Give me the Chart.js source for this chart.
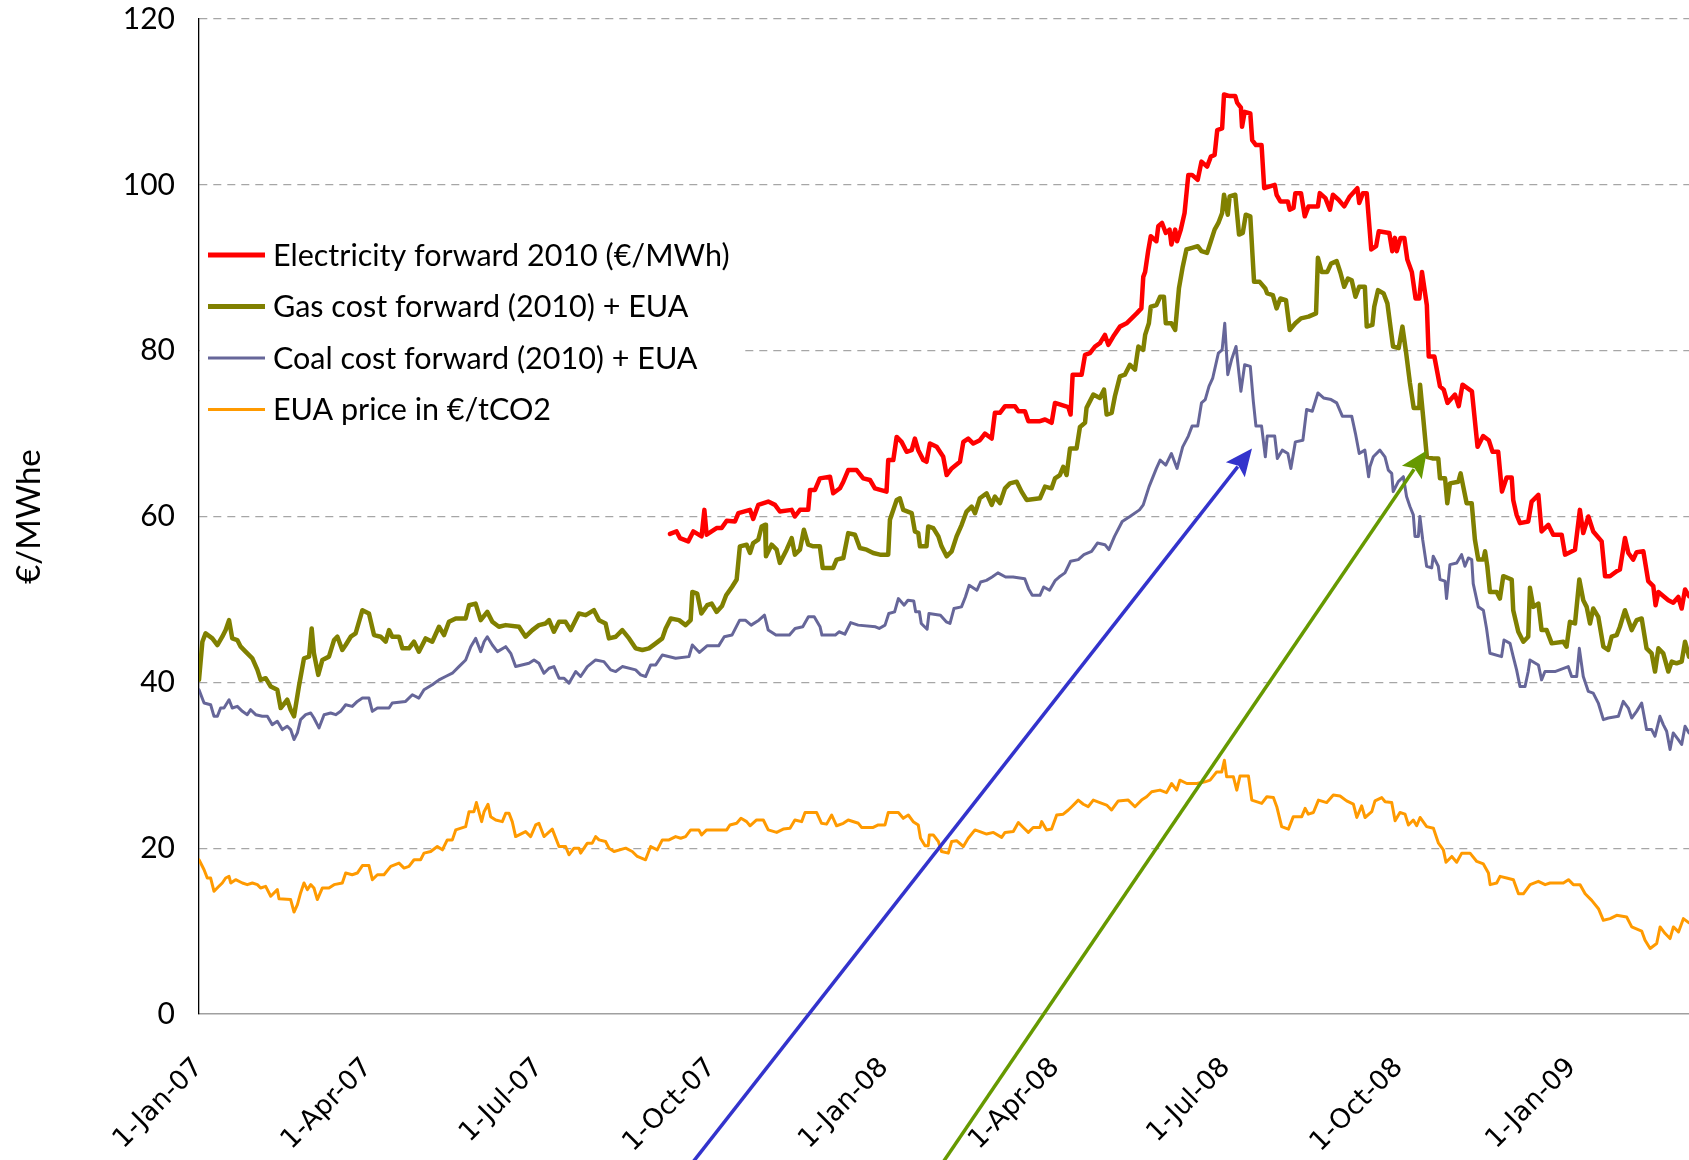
<!DOCTYPE html>
<html>
<head>
<meta charset="utf-8">
<script src="https://cdn.jsdelivr.net/npm/chart.js@4.4.1/dist/chart.umd.min.js"></script>
<style>
  html, body { margin: 0; padding: 0; background: #fff; }
  canvas { display: block; }
</style>
</head>
<body>
<canvas id="prices" width="1689" height="1160"></canvas>
<script>
// days counted from 1-Jan-2007
const xTickDays = [0, 90, 181, 273, 365, 456, 547, 639, 731];
const xTickLabels = ['1-Jan-07', '1-Apr-07', '1-Jul-07', '1-Oct-07', '1-Jan-08', '1-Apr-08', '1-Jul-08', '1-Oct-08', '1-Jan-09'];
const yTicks = [0, 20, 40, 60, 80, 100, 120];

const seriesNames = [
  'Electricity forward 2010 (€/MWh)',
  'Gas cost forward (2010) + EUA',
  'Coal cost forward (2010) + EUA',
  'EUA price in €/tCO2'
];

const elecDays = [250.8,254.3,256.1,260.5,263.2,267.6,269.1,270.3,275.6,278.3,281.0,285.4,287.2,293.4,295.1,297.8,303.1,306.7,309.3,315.6,317.3,320.0,324.4,325.3,328.0,330.6,336.0,337.7,341.3,343.1,345.7,350.2,353.7,357.3,359.9,366.1,367.0,369.7,371.5,374.1,376.8,379.5,381.2,383.0,385.7,387.4,389.2,392.8,396.3,398.1,400.8,405.2,407.0,409.6,412.3,415.8,418.5,422.1,423.8,426.5,429.2,434.5,436.3,439.8,441.6,447.8,450.5,454.0,455.8,462.9,464.1,465.2,470.0,471.8,474.4,477.1,479.7,482.4,484.2,486.8,490.4,493.9,496.6,499.3,501.8,502.8,503.8,505.4,506.8,509.8,510.8,512.8,514.8,516.8,517.8,519.8,520.8,522.8,524.8,526.8,528.8,531.8,533.8,536.8,538.8,540.8,542.2,544.8,545.8,548.8,551.8,552.8,554.8,555.4,556.8,559.8,560.8,562.8,565.8,567.2,572.8,573.8,575.8,579.8,580.8,582.8,583.8,586.8,588.8,590.8,595.8,596.8,599.8,602.2,603.8,606.8,609.8,612.8,616.8,617.8,619.8,621.8,624.2,626.8,628.2,633.8,635.4,636.8,637.8,639.8,641.8,643.4,645.8,647.8,649.8,651.2,653.8,654.8,657.8,660.8,662.8,664.8,668.8,670.8,672.8,677.8,680.8,683.8,686.8,688.8,691.8,693.8,696.3,699.0,699.8,701.6,703.4,707.8,709.6,713.2,714.9,718.5,721.1,725.6,727.4,732.7,735.3,737.1,739.8,742.4,746.9,748.7,751.3,754.9,756.6,759.3,761.1,763.7,765.5,769.1,771.7,774.4,775.6,777.1,782.4,785.0,787.7,789.5,791.3,793.4];
const elecValues = [57.9,58.2,57.4,57.0,58.2,57.6,60.8,57.8,58.6,58.6,59.5,59.4,60.4,60.8,59.7,61.4,61.8,61.4,60.6,60.8,60.0,60.8,60.8,63.2,63.2,64.6,64.8,62.8,63.4,64.2,65.6,65.6,64.6,64.4,63.4,63.0,66.8,66.8,69.6,69.0,67.8,68.0,69.4,68.0,66.8,66.6,68.8,68.4,67.2,65.0,65.8,66.6,69.0,69.4,68.8,69.2,70.0,69.4,72.5,72.5,73.3,73.3,72.7,72.7,71.5,71.5,71.7,71.3,73.7,73.2,72.3,77.1,77.1,79.5,79.7,80.5,80.9,81.9,80.7,81.7,82.9,83.3,83.9,84.5,85.1,88.9,89.5,92.0,93.8,93.2,95.0,95.4,94.2,94.6,92.8,94.6,93.2,94.6,96.6,101.2,101.2,100.6,102.8,102.2,103.4,103.6,106.6,106.8,110.9,110.7,110.7,109.9,109.3,107.0,108.8,108.6,105.4,104.8,104.8,99.6,100.0,98.8,98.0,98.0,97.0,97.2,99.0,99.0,96.2,97.4,97.4,99.0,98.4,97.0,98.8,98.2,97.4,98.6,99.6,97.8,99.0,99.0,92.2,92.6,94.4,94.2,92.0,93.6,92.0,93.6,93.6,91.0,89.5,86.3,86.3,89.5,85.5,79.3,79.3,75.7,75.3,73.7,74.7,73.3,75.9,75.1,68.4,69.7,69.2,67.8,67.8,63.0,64.7,64.7,62.0,60.2,59.2,59.4,61.8,62.6,58.2,59.0,57.8,57.8,55.4,56.0,60.8,58.0,60.0,58.2,57.0,52.8,52.8,53.4,53.6,57.4,55.6,54.8,55.7,55.8,52.2,51.6,49.3,50.9,49.9,49.6,50.3,48.9,51.2,50.4];

const gasDays = [0,1.8,3.5,7.1,9.8,12.4,14.2,16.0,17.7,20.4,22.2,24.8,28.4,31.1,32.8,35.5,38.2,41.7,43.5,47.0,48.8,50.6,53.2,55.9,58.6,60.0,61.2,63.5,65.7,69.2,71.9,73.7,76.3,78.1,80.8,83.4,87.0,90.5,93.2,96.7,99.4,101.2,102.9,106.5,108.3,111.8,114.5,117.1,120.7,124.2,127.8,130.5,133.1,136.7,142.0,143.8,147.3,150.0,153.5,156.2,159.7,163.3,170.4,173.9,177.5,181.0,184.6,186.4,189.0,191.7,195.2,197.9,202.3,205.9,210.3,213.0,216.5,218.3,221.9,225.4,229.0,232.5,236.1,239.6,243.2,246.7,248.5,251.2,255.6,259.1,261.8,262.7,265.3,267.5,270.6,273.0,275.6,278.5,280.7,283.8,286.3,288.0,291.6,293.4,295.1,297.8,299.6,301.4,301.9,304.9,307.6,309.3,312.9,315.6,317.3,320.0,322.1,324.4,327.1,330.6,332.1,337.7,339.5,343.1,345.7,349.3,351.9,355.5,359.0,362.6,367.0,367.9,371.5,373.2,375.0,379.5,381.2,383.0,383.9,387.4,388.3,391.0,393.7,395.4,398.1,400.8,403.4,406.1,408.7,411.4,413.2,415.8,419.4,422.1,423.8,426.5,429.2,431.8,435.4,438.0,440.7,447.8,450.5,454.0,455.8,458.4,460.2,462.0,463.8,467.3,469.1,471.8,472.6,476.2,479.7,481.9,483.3,486.0,487.7,490.4,493.0,495.7,498.4,500.2,502.8,503.8,505.8,506.8,509.8,511.8,513.8,514.8,517.8,519.8,521.8,523.8,525.8,528.8,531.8,533.8,536.8,538.8,540.8,542.8,544.8,545.8,547.8,548.8,551.8,553.8,555.8,557.4,559.8,560.8,561.8,564.8,567.8,568.8,571.8,573.8,575.8,578.8,580.8,583.8,586.8,590.8,594.8,595.8,597.8,600.8,602.8,605.8,607.8,609.8,611.8,613.8,615.8,617.8,620.8,621.8,624.8,625.8,627.8,630.8,632.8,635.8,638.8,640.8,642.8,644.8,646.8,649.8,650.2,651.8,653.8,656.8,659.9,660.8,663.5,664.7,666.1,670.6,671.8,673.2,675.0,677.7,679.4,681.2,683.9,684.8,686.0,687.4,691.0,692.7,694.5,699.0,699.8,702.5,705.2,707.8,708.7,710.5,713.2,714.9,717.6,720.3,726.5,728.2,730.0,732.7,735.0,737.1,738.9,740.7,742.4,745.1,747.8,750.4,752.2,754.9,756.6,759.3,761.1,762.9,765.5,768.2,770.8,773.5,775.3,777.1,779.7,782.4,784.2,786.8,789.5,791.3,793.4];
const gasValues = [40.3,44.9,45.9,45.3,44.5,45.5,46.3,47.5,45.3,45.1,44.3,43.7,42.9,41.5,40.3,40.5,39.5,39.1,36.9,37.9,36.7,35.9,39.5,42.9,43.1,46.5,43.5,40.9,42.7,43.1,45.1,45.5,43.9,44.5,45.5,45.9,48.7,48.3,45.7,45.5,44.9,46.3,45.5,45.5,44.1,44.1,44.9,43.7,45.3,44.9,46.7,45.7,47.3,47.7,47.7,49.3,49.5,47.5,48.5,47.3,46.7,46.9,46.7,45.5,46.3,46.9,47.1,47.5,46.1,47.3,47.3,46.3,48.3,48.1,48.7,47.5,47.1,45.3,45.5,46.3,45.3,44.1,43.9,44.1,44.7,45.3,46.5,47.7,47.5,46.9,47.5,50.9,50.7,48.3,49.3,49.5,48.5,49.2,50.5,51.5,52.4,56.4,56.6,55.6,56.8,57.2,58.8,59.0,55.2,56.6,56.0,54.4,56.0,57.4,55.4,56.0,58.4,56.6,56.4,56.4,53.8,53.8,54.8,55.0,58.0,57.8,56.2,56.0,55.6,55.4,55.4,59.6,62.0,62.2,60.8,60.4,58.2,58.0,56.4,56.4,58.8,58.6,57.6,56.4,55.2,55.8,57.6,59.0,60.6,61.2,60.4,62.2,62.8,61.4,62.4,61.6,63.4,64.0,64.2,63.0,62.0,62.2,63.6,63.4,64.6,65.0,66.0,65.0,68.2,68.2,70.8,71.3,73.1,74.7,74.3,75.3,72.3,72.5,74.5,76.9,77.1,78.3,77.7,80.5,80.1,81.9,83.3,85.3,85.5,86.5,86.5,83.3,83.3,82.5,87.5,90.1,92.2,92.4,92.6,92.0,91.8,93.2,94.6,95.4,96.6,98.8,96.4,98.6,98.8,94.0,94.2,96.4,96.2,92.2,88.3,88.3,87.5,86.9,86.7,85.1,86.3,86.1,82.5,83.3,83.9,84.1,84.5,91.2,89.5,89.5,90.5,90.8,89.4,87.7,88.7,88.5,86.5,87.7,87.7,82.9,83.1,85.3,87.3,86.9,85.7,80.5,80.3,82.9,79.7,76.1,73.1,73.1,75.9,72.1,67.2,67.0,67.0,64.6,64.6,61.6,64.0,64.2,65.2,63.6,61.6,61.6,57.2,54.8,54.8,55.8,54.0,50.9,50.9,50.1,52.8,52.4,48.7,46.1,44.9,45.5,51.4,49.1,49.5,46.3,46.3,44.7,44.9,44.3,47.3,47.1,52.4,49.9,49.1,47.1,48.9,47.9,44.3,43.9,45.5,45.7,46.7,48.7,47.5,46.3,47.5,47.7,44.1,43.5,41.3,44.1,43.5,41.3,42.5,42.3,42.5,44.9,43.1];

const coalDays = [0,2.7,6.2,8.0,9.8,11.5,13.3,16.0,17.7,20.4,23.1,25.7,27.5,30.2,33.7,36.4,39.0,41.7,44.4,47.0,48.8,50.6,52.4,54.1,56.8,59.5,61.2,63.9,66.6,70.1,72.8,75.4,78.1,81.6,84.3,87.0,90.5,92.3,95.0,101.2,102.9,110.0,113.6,117.1,119.8,124.2,127.8,131.3,134.9,138.4,142.0,144.7,147.3,150.0,151.8,153.5,156.2,158.9,163.3,166.0,168.6,175.7,178.4,181.0,183.7,186.4,189.0,191.7,194.4,197.0,200.6,203.2,206.8,211.2,215.6,219.2,221.9,225.4,232.5,235.2,237.8,240.5,243.2,246.7,253.8,260.9,262.7,266.5,270.5,276.7,279.7,283.8,287.9,290.9,294.0,298.1,301.1,303.1,307.2,314.4,317.4,321.5,324.5,327.6,330.7,331.7,338.8,340.8,343.9,347.0,351.0,360.2,362.2,365.3,367.3,370.4,372.4,375.5,377.5,380.6,381.6,383.6,384.6,387.7,388.7,394.8,397.9,399.9,402.0,406.0,408.1,410.1,414.2,416.2,419.3,422.3,425.4,429.5,433.5,439.7,441.7,443.7,447.8,449.8,452.9,456.0,458.0,461.1,464.1,468.2,471.2,475.3,478.4,482.4,484.5,487.5,491.6,495.7,500.8,502.8,505.9,509.8,511.8,514.8,517.8,520.8,523.8,526.8,528.8,531.8,533.8,535.8,537.8,539.8,542.8,544.8,546.2,547.8,549.8,552.2,554.8,556.8,559.8,561.4,562.8,565.8,567.8,568.8,572.8,574.2,576.8,579.8,581.4,583.8,587.8,589.8,592.8,595.8,598.8,602.8,605.8,608.8,613.8,615.8,617.8,620.8,622.8,623.5,625.3,628.8,631.5,633.3,635.1,635.9,638.6,641.3,643.0,644.8,646.6,647.5,649.3,650.1,651.6,653.7,656.4,657.2,659.9,660.8,663.5,664.3,666.1,669.7,672.3,674.1,675.9,677.7,678.5,681.2,683.9,685.6,687.4,693.6,694.9,698.1,699.8,701.6,703.4,706.1,707.8,708.7,713.2,714.9,716.7,722.0,729.1,730.9,733.6,735.0,737.1,739.8,742.4,745.1,747.8,750.4,755.8,758.4,761.1,762.9,765.5,768.2,770.8,773.5,775.3,777.9,779.7,781.5,783.3,785.0,787.7,789.5,791.3,793.4];
const coalValues = [39.1,37.5,37.3,35.9,35.9,36.9,36.9,37.9,36.9,37.1,36.5,36.1,36.7,36.1,35.9,35.9,34.9,35.3,34.3,34.7,34.3,33.1,33.9,35.5,36.1,36.3,35.7,34.5,36.1,36.3,36.1,36.5,37.3,37.1,37.7,38.1,38.1,36.5,36.9,36.9,37.5,37.7,38.5,38.1,39.1,39.7,40.3,40.7,41.1,41.9,42.7,44.3,45.3,43.7,44.9,45.5,44.5,43.7,44.3,43.5,41.9,42.3,42.7,42.3,41.1,41.7,41.9,40.5,40.5,39.9,41.3,40.7,41.9,42.7,42.5,41.5,41.3,41.9,41.5,40.9,40.7,42.1,42.1,43.3,42.9,43.1,44.5,43.6,44.4,44.4,45.5,45.7,47.5,47.5,46.9,47.5,48.1,46.3,45.7,45.7,46.5,46.7,47.9,47.9,46.7,45.7,45.7,46.1,45.8,47.2,46.9,46.7,46.5,46.9,48.3,48.5,50.1,49.3,49.9,49.8,48.5,48.5,47.1,46.4,48.3,48.1,47.3,47.1,48.9,49.1,50.3,51.7,51.1,52.1,52.3,52.7,53.2,52.7,52.7,52.5,51.3,50.5,50.5,51.5,51.1,52.3,52.7,53.2,54.6,54.8,55.4,55.8,56.8,56.6,56.0,57.6,59.4,60.0,60.8,61.4,63.6,65.8,66.8,66.2,67.6,65.8,68.4,69.7,70.9,70.9,73.7,74.1,75.7,76.7,79.7,80.1,83.3,77.1,78.9,80.5,75.1,78.3,78.1,73.9,70.9,70.9,67.2,69.7,69.7,67.0,68.0,67.6,65.8,69.0,69.2,72.9,72.7,74.9,74.3,74.1,73.7,72.1,72.1,70.0,67.6,68.0,64.8,66.0,67.2,68.0,67.2,65.6,65.2,63.0,64.2,64.8,62.4,61.2,60.2,57.6,57.6,60.0,57.2,54.0,53.8,55.2,54.0,52.4,52.2,50.1,54.2,54.4,55.4,54.0,55.0,54.8,51.9,49.1,48.7,46.5,43.5,43.1,45.1,44.7,43.1,41.5,39.5,39.5,41.3,42.7,42.1,40.3,41.3,41.3,41.9,40.7,40.7,44.1,40.7,38.9,38.7,37.5,35.5,35.7,35.9,37.7,36.9,35.7,36.5,37.5,34.3,34.3,33.5,35.9,34.9,34.1,31.9,33.9,33.1,32.5,34.7,33.9];

const euaDays = [0,2.7,4.4,6.2,8.0,10.6,12.4,14.2,16.0,16.9,19.5,23.1,25.7,28.4,31.1,32.8,35.5,38.2,41.7,42.6,48.8,50.6,52.4,54.1,55.9,57.7,59.5,61.2,63.0,65.7,69.2,71.9,76.3,78.1,81.6,84.3,87.0,90.5,92.3,95.0,98.5,102.1,106.5,109.2,111.8,114.5,118.0,119.8,123.4,126.9,129.6,132.2,134.9,136.7,142.0,143.8,146.4,147.7,150.5,151.8,153.9,155.3,158.0,161.5,163.3,165.1,166.8,168.6,173.9,176.6,179.3,181.0,183.7,188.1,191.7,195.2,197.0,199.7,202.3,203.2,206.8,209.4,211.2,213.0,216.5,218.3,221.0,227.2,230.7,233.4,237.8,240.5,244.0,246.7,250.3,253.8,256.5,259.1,261.8,266.2,267.6,270.3,281.0,282.7,286.3,288.6,291.6,293.4,296.9,300.5,303.1,307.6,311.1,314.7,317.3,320.9,322.7,328.9,331.5,334.2,336.9,339.5,343.1,345.7,351.1,352.8,359.0,361.7,365.3,367.0,372.4,375.0,377.7,380.3,383.0,384.2,386.6,388.3,388.9,391.0,393.7,395.4,399.0,400.8,403.4,407.0,409.6,413.2,415.8,419.4,423.0,427.4,429.2,433.6,436.3,438.9,441.6,444.2,447.8,448.7,451.3,454.0,456.7,460.2,462.9,464.7,468.2,470.9,473.5,476.2,479.7,483.3,485.9,489.5,494.8,498.4,501.9,504.6,507.3,511.7,515.2,517.9,520.6,522.3,526.0,531.3,535.7,538.4,541.9,544.6,546.0,547.2,550.8,552.6,554.3,558.8,560.6,565.9,568.6,572.1,573.9,576.5,580.1,582.7,587.2,589.0,590.7,593.4,596.1,600.5,604.0,607.6,611.1,614.7,616.5,619.1,620.9,624.5,626.2,629.8,631.6,635.1,636.9,639.5,642.2,644.0,646.6,648.4,650.2,653.7,657.3,660.0,662.6,664.0,667.1,669.7,672.4,676.8,680.4,683.9,686.6,687.5,691.0,692.8,696.3,699.9,702.6,705.2,708.8,713.2,716.8,719.4,726.5,729.2,731.8,735.4,738.1,741.6,745.2,747.8,751.4,754.9,760.2,762.9,768.2,770.0,772.7,776.2,778.0,780.7,783.3,785.1,787.8,790.4,793.4];
const euaValues = [18.6,17.4,16.4,16.4,14.8,15.4,15.8,16.4,16.6,15.8,16.2,15.8,15.6,15.8,15.6,15.2,15.4,14.2,15.0,13.9,13.8,12.3,13.2,14.6,15.8,15.0,15.6,15.2,13.8,15.2,15.2,15.6,15.8,17.0,16.8,17.0,17.9,17.9,16.2,16.8,16.8,17.8,18.2,17.6,17.8,18.6,18.6,19.4,19.6,20.2,19.8,21.0,21.0,22.2,22.6,24.4,24.4,25.5,23.2,24.4,25.3,23.8,23.4,23.2,24.2,24.2,23.2,21.4,22.0,21.4,22.8,23.0,21.4,22.3,20.2,20.2,19.2,20.0,20.0,19.4,20.6,20.6,21.4,21.0,20.8,20.0,19.6,20.0,19.6,19.0,18.6,20.2,19.8,21.0,21.0,21.4,21.2,21.4,22.2,22.2,21.6,22.2,22.2,22.8,23.0,23.6,23.2,22.7,23.4,23.4,22.2,21.9,22.3,22.4,23.4,23.2,24.3,24.3,23.0,22.9,24.0,22.7,23.0,23.4,23.0,22.5,22.5,22.8,22.8,24.3,24.3,23.6,24.0,23.2,22.8,21.2,20.3,20.3,21.6,21.6,20.8,19.6,19.4,20.8,20.9,20.2,21.2,22.2,22.0,21.7,21.9,21.3,21.9,22.0,23.1,22.5,21.9,22.5,22.5,23.2,22.2,22.3,24.0,24.1,24.6,25.0,25.8,25.3,25.0,25.8,25.5,25.2,24.6,25.7,25.8,25.0,25.8,26.2,26.8,27.0,26.7,27.8,27.0,28.2,27.8,27.8,28.0,28.2,29.2,29.2,30.6,28.6,28.6,27.0,28.7,28.7,25.8,25.4,26.2,26.1,25.0,22.6,22.3,23.8,23.8,24.8,24.1,24.3,25.8,25.5,26.4,26.3,25.7,25.3,23.7,25.1,23.7,24.4,25.7,26.1,25.6,25.5,23.3,24.3,24.1,22.8,23.4,22.7,23.7,22.6,22.4,20.6,19.8,18.3,19.0,18.3,19.4,19.4,18.4,18.1,17.0,15.6,15.8,16.6,16.4,16.2,14.5,14.5,15.6,16.0,15.6,15.8,15.8,16.2,15.6,15.6,14.5,13.7,12.7,11.3,11.5,11.9,11.7,10.5,10.0,8.9,7.9,8.5,10.5,9.7,9.1,10.5,9.9,11.5,11.0];

// annotation arrows, in data units (day, €/MWhe)
const arrows = [
  { from: [255.6, -20], to: [560.7, 68.2], color: '#3333cc' },
  { from: [389.8, -20], to: [653.9, 68.0], color: '#669900' }
];

function pairs(days, values) {
  return days.map((d, i) => ({ x: d, y: values[i] }));
}

const insideLegend = {
  id: 'insideLegend',
  beforeDatasetsDraw(chart) {
    const ctx = chart.ctx;
    const left = chart.chartArea.left;
    ctx.save();
    ctx.fillStyle = '#ffffff';
    ctx.fillRect(left + 1, 226, 542, 212);
    ctx.font = '30.5px Lato';
    ctx.textBaseline = 'middle';
    ctx.textAlign = 'left';
    chart.data.datasets.forEach((ds, i) => {
      const y = 255 + i * 51.5;
      ctx.strokeStyle = ds.borderColor;
      ctx.lineWidth = ds.legendWidth;
      ctx.beginPath();
      ctx.moveTo(left + 9, y);
      ctx.lineTo(left + 66, y);
      ctx.stroke();
      ctx.fillStyle = '#000';
      ctx.fillText(ds.label, left + 74, y + 1);
    });
    ctx.restore();
  }
};

const arrowLines = {
  id: 'arrowLines',
  afterDraw(chart) {
    const { ctx, scales } = chart;
    arrows.forEach(a => {
      const x1 = scales.x.getPixelForValue(a.from[0]);
      const y1 = scales.y.getPixelForValue(a.from[1]);
      const x2 = scales.x.getPixelForValue(a.to[0]);
      const y2 = scales.y.getPixelForValue(a.to[1]);
      const ang = Math.atan2(y2 - y1, x2 - x1);
      const c = Math.cos(ang), s = Math.sin(ang);
      const len = 27, half = 12;
      const bx = x2 - len * c, by = y2 - len * s;
      ctx.save();
      ctx.strokeStyle = a.color;
      ctx.fillStyle = a.color;
      ctx.lineWidth = 3.5;
      ctx.beginPath();
      ctx.moveTo(x1, y1);
      ctx.lineTo(bx + 4 * c, by + 4 * s);
      ctx.stroke();
      ctx.beginPath();
      ctx.moveTo(x2, y2);
      ctx.lineTo(bx + half * s, by - half * c);
      ctx.lineTo(bx + 5 * c, by + 5 * s);
      ctx.lineTo(bx - half * s, by + half * c);
      ctx.closePath();
      ctx.fill();
      ctx.restore();
    });
  }
};

function draw() {
  Chart.defaults.font.family = 'Lato';
  Chart.defaults.color = '#000';

  new Chart(document.getElementById('prices'), {
    type: 'line',
    data: {
      datasets: [
        { label: seriesNames[0], data: pairs(elecDays, elecValues), borderColor: '#ff0000', borderWidth: 4.5, legendWidth: 5 },
        { label: seriesNames[1], data: pairs(gasDays, gasValues), borderColor: '#808000', borderWidth: 4.5, legendWidth: 5 },
        { label: seriesNames[2], data: pairs(coalDays, coalValues), borderColor: '#666699', borderWidth: 3, legendWidth: 3 },
        { label: seriesNames[3], data: pairs(euaDays, euaValues), borderColor: '#ff9a00', borderWidth: 3, legendWidth: 3 }
      ]
    },
    options: {
      responsive: false,
      animation: false,
      devicePixelRatio: 1,
      layout: { padding: { left: 10, top: 19, right: 0, bottom: 0 } },
      plugins: { legend: { display: false }, tooltip: { enabled: false } },
      elements: {
        point: { radius: 0 },
        line: { tension: 0, borderJoinStyle: 'round', borderCapStyle: 'round', fill: false }
      },
      scales: {
        x: {
          type: 'linear',
          min: 0,
          max: 793.4,
          afterBuildTicks: scale => { scale.ticks = xTickDays.map(v => ({ value: v })); },
          afterFit: scale => { scale.height = 146; },
          grid: { display: false },
          border: { display: true, color: '#a0a0a0', width: 1.5 },
          ticks: {
            autoSkip: false,
            minRotation: 45,
            maxRotation: 45,
            padding: 30,
            color: '#000',
            font: { family: 'DejaVu Sans', size: 27 },
            callback: (v, i) => xTickLabels[i]
          }
        },
        y: {
          min: 0,
          max: 120,
          afterBuildTicks: scale => { scale.ticks = yTicks.map(v => ({ value: v })); },
          afterFit: scale => { scale.width = 189; },
          grid: {
            color: c => (c.tick && c.tick.value === 0 ? 'rgba(0,0,0,0)' : '#a6a6a6'),
            lineWidth: 1.3,
            drawTicks: true,
            tickLength: 24,
            tickColor: 'rgba(0,0,0,0)'
          },
          border: { color: '#000', width: 1.3, dash: [8, 6] },
          ticks: { padding: 0, color: '#000', font: { size: 30 } },
          title: { display: true, text: '€/MWhe', color: '#000', font: { size: 33 }, padding: 0 }
        }
      }
    },
    plugins: [insideLegend, arrowLines]
  });
}

Promise.all([
  document.fonts.load('30px Lato'),
  document.fonts.load('27px "DejaVu Sans"')
]).then(draw, draw);
</script>
</body>
</html>
